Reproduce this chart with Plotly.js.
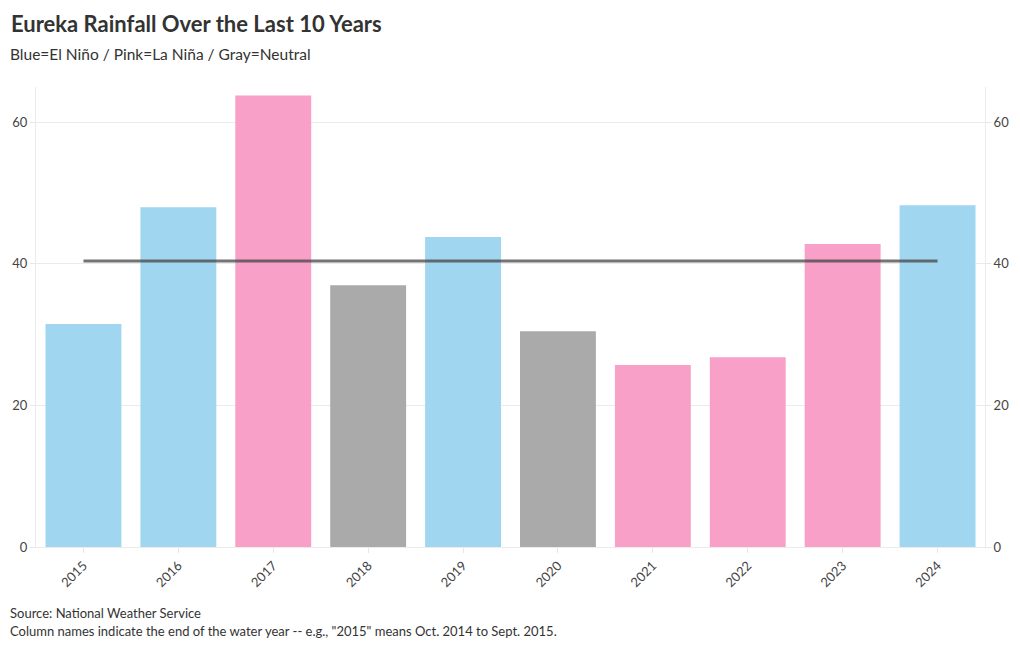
<!DOCTYPE html>
<html>
<head>
<meta charset="utf-8">
<script src="https://cdn.plot.ly/plotly-3.0.1.min.js"></script>
<style>html,body{margin:0;padding:0;background:#fff;}#chart{width:1020px;height:650px;}</style>
</head>
<body>
<div id="chart"></div>
<script>
const years = ['2015','2016','2017','2018','2019','2020','2021','2022','2023','2024'];
const rainfall = [31.5, 48.0, 63.8, 37.0, 43.8, 30.5, 25.7, 26.8, 42.8, 48.3];
const phase = ['El Niño','El Niño','La Niña','Neutral','El Niño','Neutral','La Niña','La Niña','La Niña','El Niño'];
const averageRainfall = 40.4;
const yTicks = [0, 20, 40, 60];

const phaseColors = {'El Niño': '#a0d6f0', 'La Niña': '#f8a0c8', 'Neutral': '#aaaaaa'};
const FONT = 'Lato, "Source Sans Pro", "Noto Sans", sans-serif';

const traces = [
  {
    type: 'bar', x: years, y: rainfall,
    marker: {color: phase.map(p => phaseColors[p])},
    hoverinfo: 'x+y', showlegend: false
  },
  {
    type: 'scatter', mode: 'lines',
    x: [years[0], years[years.length - 1]], y: [averageRainfall, averageRainfall],
    line: {color: 'rgba(70,70,70,0.75)', width: 3},
    showlegend: false
  },
  {
    type: 'scatter', mode: 'lines', x: [years[0]], y: [0], yaxis: 'y2',
    line: {width: 0}, hoverinfo: 'skip', showlegend: false, opacity: 0
  }
];

const axisCommon = {
  range: [0, 65], tickvals: yTicks, ticks: 'outside', ticklen: 5,
  tickcolor: '#e6e6e6', gridcolor: '#ebebeb', zeroline: false,
  showline: true, linecolor: '#ebebeb', linewidth: 1,
  tickfont: {family: FONT, size: 13, color: '#444'}, fixedrange: true
};

const layout = {
  width: 1020, height: 650,
  margin: {l: 36, r: 35, t: 87, b: 103},
  paper_bgcolor: '#fff', plot_bgcolor: '#fff',
  bargap: 0.2,
  font: {family: FONT, color: '#333'},
  title: {
    text: '<b>Eureka Rainfall Over the Last 10 Years</b>',
    x: 11/1020, xanchor: 'left', xref: 'container', y: 0.963, yanchor: 'middle',
    font: {family: FONT, size: 22, color: '#333'}
  },
  xaxis: {
    type: 'category', tickangle: -45, ticks: 'outside', ticklen: 5,
    tickcolor: '#e6e6e6', showline: true, linecolor: '#ebebeb',
    tickfont: {family: FONT, size: 13, color: '#444'}, showgrid: false
  },
  yaxis: Object.assign({}, axisCommon, {side: 'left'}),
  yaxis2: Object.assign({}, axisCommon, {side: 'right', overlaying: 'y', showgrid: false}),
  annotations: [
    {text: 'Blue=El Niño / Pink=La Niña / Gray=Neutral', xref: 'paper', yref: 'paper',
     x: -0.029, y: 1.0 + 33/460, xanchor: 'left', yanchor: 'middle', showarrow: false,
     font: {family: FONT, size: 15.5, color: '#333'}},
    {text: 'Source: National Weather Service', xref: 'paper', yref: 'paper',
     x: -0.029, y: -66/460, xanchor: 'left', yanchor: 'middle', showarrow: false,
     font: {family: FONT, size: 13, color: '#333'}},
    {text: 'Column names indicate the end of the water year -- e.g., "2015" means Oct. 2014 to Sept. 2015.',
     xref: 'paper', yref: 'paper',
     x: -0.029, y: -84/460, xanchor: 'left', yanchor: 'middle', showarrow: false,
     font: {family: FONT, size: 13, color: '#333'}}
  ]
};

Plotly.newPlot('chart', traces, layout, {displayModeBar: false, responsive: false});
</script>
</body>
</html>
